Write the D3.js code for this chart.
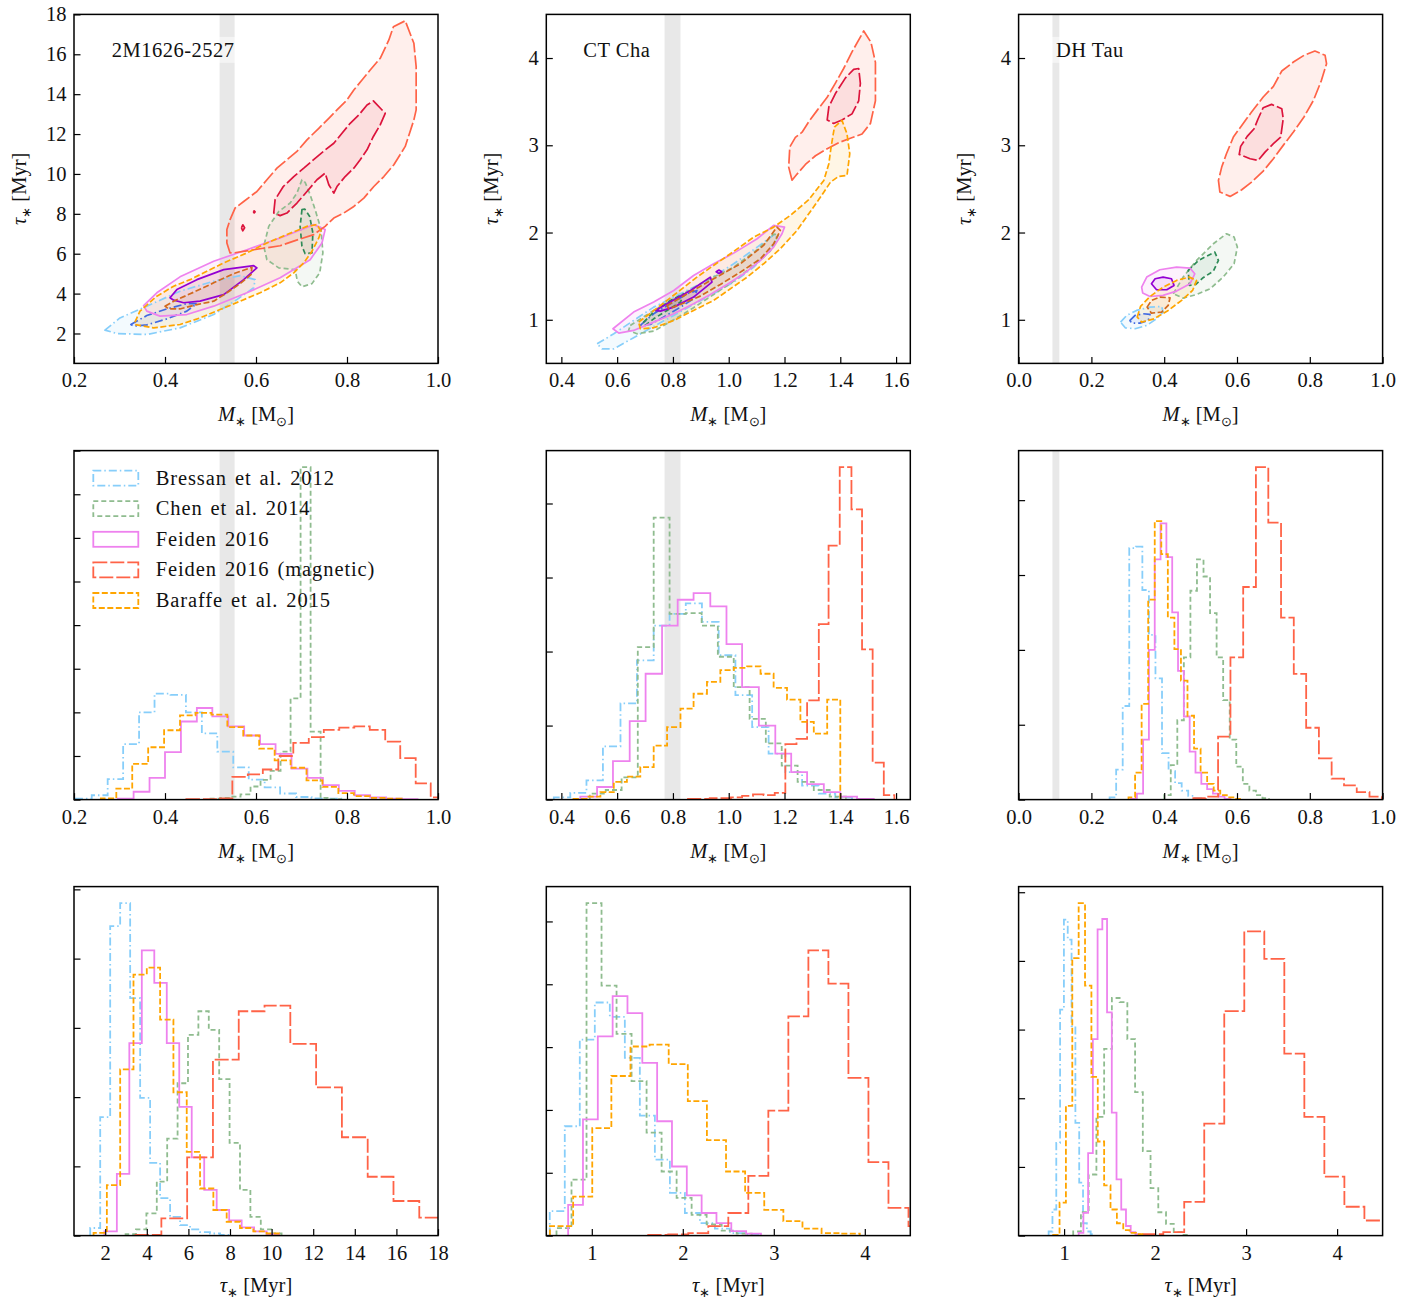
<!DOCTYPE html>
<html>
<head>
<meta charset="utf-8">
<script src="https://cdn.jsdelivr.net/npm/d3@7/dist/d3.min.js"></script>
<style>
  body { margin: 0; background: #fff; }
  text { font-family: "Liberation Serif", "Times New Roman", serif; fill: #111; }
</style>
</head>
<body>
<svg id="fig" width="1422" height="1303"></svg>
<script>
// ---------- names, styles ----------
const stars = ["2M1626-2527", "CT Cha", "DH Tau"];
const models = ["Bressan et al. 2012", "Chen et al. 2014", "Feiden 2016", "Feiden 2016 (magnetic)", "Baraffe et al. 2015"];
const outerColors = ["#87cefa", "#8fbc8f", "#ee82ee", "#ff6347", "#ffa500"];
const innerColors = ["#4169e1", "#2e8b57", "#9400d3", "#dc143c", "#d2691e"];
const dashes = ["8,3,1.5,3", "5,3", null, "14,3", "6,2.5"];

// dynamical mass ranges (M_sun)
const dynMassLo = [0.520, 0.770, 0.093];
const dynMassHi = [0.553, 0.827, 0.112];

// axis limits and ticks
const massDomain = [[0.2, 1.0], [0.346, 1.651], [0.0, 1.0]];
const ageDomain = [[0.5, 18], [0.5, 4.5], [0.5, 4.5]];
const massTicks = [[0.2, 0.4, 0.6, 0.8, 1.0], [0.4, 0.6, 0.8, 1.0, 1.2, 1.4, 1.6], [0.0, 0.2, 0.4, 0.6, 0.8, 1.0]];
const ageTicks = [[2, 4, 6, 8, 10, 12, 14, 16, 18], [1, 2, 3, 4], [1, 2, 3, 4]];

// ---------- posterior contours (mass, age) : 95% and 68% levels ----------
// 2M1626-2527
const c2M_bre_95 = [[0.268,2.17],[0.301,2.78],[0.360,3.37],[0.433,4.12],[0.507,4.62],[0.565,4.90],[0.598,4.70],[0.595,4.29],[0.558,3.70],[0.507,2.95],[0.433,2.28],[0.360,1.95],[0.294,2.00]];
const c2M_bre_68 = [[0.325,2.45],[0.360,2.90],[0.404,3.23],[0.448,3.50],[0.470,3.50],[0.448,3.12],[0.404,2.73],[0.360,2.43],[0.331,2.37]];
const c2M_che_95 = [[0.701,9.71],[0.690,9.04],[0.675,8.54],[0.650,8.12],[0.628,7.37],[0.617,6.37],[0.624,5.70],[0.650,5.29],[0.686,5.20],[0.691,4.62],[0.701,4.34],[0.723,4.50],[0.740,5.04],[0.747,6.04],[0.743,7.21],[0.730,8.21],[0.719,8.96],[0.708,9.58]];
const c2M_che_68 = [[0.701,8.21],[0.697,7.37],[0.701,6.37],[0.708,6.00],[0.723,6.04],[0.725,7.04],[0.718,7.87],[0.707,8.24]];
const c2M_fei_95 = [[0.353,3.40],[0.382,4.04],[0.433,4.84],[0.507,5.62],[0.580,6.20],[0.653,6.79],[0.727,7.46],[0.752,7.21],[0.745,6.54],[0.719,5.70],[0.653,4.79],[0.580,4.04],[0.507,3.37],[0.448,2.95],[0.389,2.87],[0.360,3.12]];
const c2M_fei_68 = [[0.411,3.79],[0.426,4.20],[0.470,4.70],[0.529,5.20],[0.595,5.40],[0.602,5.29],[0.573,4.70],[0.529,3.95],[0.477,3.62],[0.441,3.54],[0.419,3.67]];
const c2M_mag_95 = [[0.543,6.04],[0.536,6.54],[0.536,7.21],[0.543,7.71],[0.554,8.29],[0.573,8.62],[0.602,9.12],[0.624,9.71],[0.646,10.29],[0.668,10.71],[0.690,11.13],[0.712,11.71],[0.738,12.29],[0.760,12.79],[0.778,13.21],[0.800,13.71],[0.815,14.21],[0.833,14.71],[0.851,15.21],[0.873,15.80],[0.892,16.72],[0.902,17.38],[0.928,17.68],[0.947,16.55],[0.952,15.38],[0.952,13.21],[0.947,12.71],[0.928,11.38],[0.903,10.46],[0.881,9.87],[0.859,9.37],[0.837,8.79],[0.815,8.37],[0.793,8.04],[0.771,7.79],[0.752,7.37],[0.727,6.96],[0.697,6.74],[0.653,6.40],[0.595,6.20],[0.551,6.04]];
const c2M_mag_68 = [[0.639,8.04],[0.642,8.71],[0.660,9.37],[0.683,9.87],[0.705,10.29],[0.726,10.71],[0.748,11.13],[0.771,11.54],[0.789,12.04],[0.807,12.54],[0.826,12.96],[0.844,13.46],[0.858,13.66],[0.884,13.04],[0.873,12.46],[0.858,11.88],[0.844,11.21],[0.829,10.71],[0.815,10.29],[0.796,9.87],[0.778,9.37],[0.771,9.04],[0.760,9.46],[0.752,10.04],[0.734,9.71],[0.712,9.12],[0.690,8.54],[0.668,8.04],[0.653,7.91]];
const c2M_mag_68b = [[0.568,7.30],[0.571,7.45],[0.575,7.30],[0.571,7.15]];
const c2M_mag_68c = [[0.594,8.10],[0.596,8.15],[0.598,8.10],[0.596,8.05]];
const c2M_bar_95 = [[0.334,2.57],[0.345,3.12],[0.382,3.87],[0.419,4.37],[0.455,4.70],[0.492,5.12],[0.529,5.54],[0.580,6.04],[0.624,6.54],[0.668,6.96],[0.712,7.37],[0.734,7.46],[0.743,7.12],[0.738,6.79],[0.723,6.12],[0.705,5.54],[0.683,5.04],[0.653,4.54],[0.609,4.04],[0.565,3.62],[0.521,3.20],[0.477,2.78],[0.433,2.45],[0.375,2.28],[0.334,2.45]];
const c2M_bar_68 = [[0.400,3.37],[0.419,3.62],[0.463,4.07],[0.507,4.54],[0.551,5.00],[0.591,5.32],[0.589,4.95],[0.565,4.50],[0.536,4.04],[0.507,3.62],[0.470,3.45],[0.433,3.23],[0.408,3.23]];

// CT Cha
const cCT_bre_95 = [[0.528,0.725],[0.588,0.839],[0.659,0.992],[0.731,1.145],[0.827,1.298],[0.922,1.451],[1.018,1.642],[1.102,1.833],[1.167,1.986],[1.173,1.917],[1.137,1.757],[1.090,1.604],[1.018,1.432],[0.946,1.298],[0.874,1.176],[0.803,1.050],[0.731,0.924],[0.659,0.794],[0.588,0.667],[0.546,0.667]];
const cCT_bre_68 = [[0.683,0.935],[0.731,1.069],[0.791,1.183],[0.851,1.298],[0.886,1.336],[0.874,1.241],[0.827,1.145],[0.767,1.031],[0.719,0.947]];
const cCT_che_95 = [[0.647,0.935],[0.731,1.107],[0.827,1.279],[0.922,1.451],[1.018,1.604],[1.102,1.803],[1.161,1.978],[1.179,1.978],[1.149,1.787],[1.090,1.623],[1.018,1.443],[0.946,1.290],[0.874,1.138],[0.803,1.000],[0.731,0.870],[0.671,0.839],[0.641,0.878]];
const cCT_che_68 = [[0.695,0.973],[0.731,1.088],[0.791,1.222],[0.839,1.298],[0.827,1.203],[0.779,1.107],[0.731,1.011],[0.701,0.935]];
const cCT_fei_95 = [[0.585,0.897],[0.659,1.088],[0.731,1.203],[0.803,1.336],[0.874,1.508],[0.946,1.642],[1.018,1.764],[1.102,1.929],[1.161,2.081],[1.200,2.062],[1.191,1.986],[1.161,1.833],[1.114,1.680],[1.054,1.527],[0.994,1.405],[0.934,1.290],[0.874,1.183],[0.803,1.069],[0.731,0.973],[0.659,0.878],[0.606,0.847]];
const cCT_fei_68 = [[0.737,1.107],[0.779,1.183],[0.863,1.336],[0.934,1.489],[0.940,1.432],[0.874,1.260],[0.803,1.145],[0.755,1.099]];
const cCT_fei_68b = [[0.955,1.550],[0.965,1.570],[0.975,1.550],[0.965,1.530]];
const cCT_mag_95 = [[1.227,2.60],[1.215,2.75],[1.219,2.98],[1.239,3.09],[1.263,3.15],[1.287,3.27],[1.317,3.40],[1.353,3.55],[1.382,3.71],[1.412,3.88],[1.442,4.07],[1.484,4.31],[1.510,4.18],[1.526,3.95],[1.526,3.51],[1.508,3.25],[1.478,3.13],[1.436,3.08],[1.394,3.03],[1.353,2.96],[1.311,2.88],[1.275,2.78],[1.245,2.67]];
const cCT_mag_68 = [[1.353,3.29],[1.359,3.44],[1.382,3.59],[1.418,3.77],[1.448,3.87],[1.466,3.88],[1.472,3.71],[1.466,3.51],[1.442,3.36],[1.406,3.29],[1.376,3.25]];
const cCT_bar_95 = [[0.677,0.973],[0.779,1.222],[0.886,1.489],[1.006,1.757],[1.090,1.948],[1.161,2.062],[1.221,2.196],[1.287,2.376],[1.341,2.597],[1.359,2.789],[1.367,2.980],[1.379,3.209],[1.406,3.285],[1.424,3.132],[1.434,2.903],[1.424,2.655],[1.394,2.643],[1.365,2.578],[1.329,2.406],[1.287,2.215],[1.245,2.024],[1.185,1.814],[1.125,1.642],[1.066,1.489],[1.006,1.355],[0.946,1.222],[0.874,1.107],[0.803,0.992],[0.731,0.908],[0.683,0.897]];
const cCT_bar_68 = [[0.779,1.164],[0.851,1.298],[0.946,1.470],[1.042,1.642],[1.125,1.852],[1.173,2.062],[1.185,2.024],[1.161,1.871],[1.114,1.699],[1.042,1.546],[0.970,1.405],[0.898,1.271],[0.827,1.176],[0.785,1.126]];

// DH Tau
const cDH_bre_95 = [[0.280,0.973],[0.297,1.050],[0.324,1.107],[0.361,1.145],[0.393,1.153],[0.397,1.088],[0.379,1.011],[0.352,0.935],[0.320,0.897],[0.293,0.908]];
const cDH_bre_68 = [[0.306,0.992],[0.320,1.050],[0.342,1.069],[0.361,1.061],[0.356,0.992],[0.333,0.962],[0.310,0.962]];
const cDH_che_95 = [[0.425,1.298],[0.452,1.489],[0.489,1.680],[0.535,1.871],[0.571,1.986],[0.592,1.948],[0.601,1.833],[0.592,1.642],[0.562,1.489],[0.526,1.355],[0.489,1.290],[0.452,1.248]];
const cDH_che_68 = [[0.466,1.566],[0.494,1.680],[0.539,1.776],[0.549,1.680],[0.535,1.558],[0.507,1.482],[0.487,1.405],[0.469,1.394]];
const cDH_fei_95 = [[0.338,1.374],[0.352,1.489],[0.388,1.573],[0.434,1.604],[0.471,1.592],[0.484,1.527],[0.471,1.413],[0.434,1.329],[0.397,1.279],[0.361,1.267],[0.341,1.306]];
const cDH_fei_68 = [[0.365,1.413],[0.375,1.470],[0.397,1.489],[0.420,1.470],[0.427,1.394],[0.407,1.344],[0.379,1.344]];
const cDH_mag_95 = [[0.553,2.464],[0.549,2.597],[0.558,2.750],[0.571,2.903],[0.590,3.094],[0.613,3.228],[0.640,3.381],[0.672,3.553],[0.700,3.675],[0.723,3.851],[0.755,3.954],[0.784,4.031],[0.814,4.080],[0.842,4.031],[0.846,3.935],[0.832,3.744],[0.810,3.515],[0.784,3.324],[0.755,3.152],[0.727,2.999],[0.700,2.846],[0.672,2.704],[0.640,2.578],[0.613,2.490],[0.581,2.414]];
const cDH_mag_68 = [[0.606,2.896],[0.610,2.987],[0.628,3.102],[0.647,3.190],[0.658,3.304],[0.672,3.431],[0.695,3.469],[0.723,3.419],[0.727,3.304],[0.720,3.094],[0.700,3.018],[0.677,2.922],[0.658,2.827],[0.636,2.846]];
const cDH_bar_95 = [[0.326,1.031],[0.335,1.153],[0.361,1.267],[0.397,1.374],[0.434,1.451],[0.469,1.489],[0.489,1.451],[0.478,1.336],[0.448,1.222],[0.411,1.107],[0.372,1.011],[0.338,0.973]];
const cDH_bar_68 = [[0.353,1.145],[0.365,1.222],[0.388,1.260],[0.416,1.252],[0.411,1.164],[0.393,1.088],[0.365,1.076]];

// ---------- marginal histograms (bin edges, heights) ----------
// 2M1626-2527 mass
const m2M_bre_e = [0.204,0.239,0.274,0.308,0.343,0.377,0.412,0.446,0.481,0.515,0.550,0.584,0.619,0.653,0.688,0.722,0.757,0.791];
const m2M_bre_h = [0.02,0.10,0.47,1.27,2.00,2.43,2.40,2.00,1.52,1.10,0.74,0.46,0.28,0.14,0.06,0.03,0.02];
const m2M_che_e = [0.500,0.522,0.544,0.566,0.588,0.610,0.632,0.654,0.676,0.698,0.720,0.742,0.764,0.786];
const m2M_che_h = [0.02,0.04,0.07,0.12,0.30,0.45,0.66,1.10,2.32,7.62,1.56,0.04,0.01];
const m2M_fei_e = [0.296,0.331,0.366,0.400,0.435,0.470,0.504,0.539,0.574,0.609,0.643,0.678,0.713,0.747,0.782,0.817,0.851,0.886,0.921,0.955];
const m2M_fei_h = [0.02,0.18,0.50,1.09,1.79,2.10,1.91,1.68,1.47,1.27,1.05,0.71,0.50,0.33,0.20,0.10,0.05,0.02,0.01];
const m2M_mag_e = [0.447,0.480,0.514,0.548,0.582,0.615,0.649,0.682,0.716,0.749,0.783,0.816,0.850,0.884,0.917,0.951,0.984,1.018];
const m2M_mag_h = [0.01,0.01,0.03,0.52,0.58,0.69,1.00,1.30,1.43,1.60,1.65,1.68,1.60,1.33,0.95,0.37,0.05];
const m2M_bar_e = [0.259,0.293,0.328,0.363,0.398,0.433,0.467,0.502,0.537,0.572,0.607,0.641,0.676,0.711,0.746,0.781,0.815,0.850,0.885,0.920];
const m2M_bar_h = [0.03,0.25,0.82,1.20,1.59,1.93,1.99,1.95,1.66,1.47,1.17,0.90,0.73,0.44,0.29,0.15,0.08,0.04,0.02];
// CT Cha mass
const mCT_bre_e = [0.373,0.432,0.490,0.549,0.612,0.671,0.731,0.788,0.846,0.904,0.964,1.024,1.084,1.143,1.203,1.263,1.323,1.382,1.442];
const mCT_bre_h = [0.03,0.09,0.26,0.72,1.30,1.88,2.35,2.51,2.65,2.40,1.95,1.41,0.98,0.62,0.37,0.19,0.08,0.03];
const mCT_che_e = [0.444,0.502,0.559,0.616,0.674,0.731,0.788,0.846,0.903,0.961,1.018,1.075,1.133,1.190,1.247,1.305,1.362,1.420];
const mCT_che_h = [0.01,0.08,0.13,0.30,2.06,3.81,2.51,2.52,2.35,1.93,1.52,1.09,0.76,0.46,0.24,0.13,0.04];
const mCT_fei_e = [0.468,0.528,0.585,0.645,0.702,0.761,0.817,0.874,0.934,0.992,1.048,1.108,1.167,1.224,1.281,1.341,1.400,1.460,1.520];
const mCT_fei_h = [0.04,0.17,0.52,1.06,1.70,2.35,2.70,2.79,2.61,2.10,1.52,1.00,0.62,0.37,0.21,0.10,0.04,0.01];
const mCT_mag_e = [0.854,0.892,0.932,0.970,1.008,1.048,1.087,1.125,1.165,1.203,1.243,1.281,1.323,1.358,1.398,1.440,1.478,1.516,1.556,1.594];
const mCT_mag_h = [0.01,0.01,0.02,0.02,0.03,0.05,0.07,0.06,0.09,0.75,0.82,1.34,2.37,3.43,4.49,3.92,2.03,0.50,0.06];
const mCT_bar_e = [0.444,0.492,0.540,0.588,0.635,0.683,0.731,0.779,0.827,0.874,0.922,0.970,1.018,1.066,1.114,1.161,1.209,1.257,1.305,1.353,1.400];
const mCT_bar_h = [0.01,0.04,0.10,0.24,0.31,0.44,0.73,0.98,1.23,1.43,1.59,1.75,1.78,1.80,1.70,1.51,1.35,1.05,0.89,1.35];
// DH Tau mass
const mDH_bre_e = [0.250,0.268,0.286,0.304,0.322,0.340,0.358,0.376,0.394,0.412,0.430,0.448,0.466,0.484,0.502,0.520];
const mDH_bre_h = [0.03,0.40,1.25,3.36,3.38,2.80,2.20,1.62,0.62,0.38,0.22,0.12,0.05,0.02,0.01];
const mDH_che_e = [0.400,0.418,0.436,0.454,0.472,0.490,0.508,0.526,0.544,0.562,0.580,0.598,0.616,0.634,0.652,0.670,0.688];
const mDH_che_h = [0.06,0.46,1.06,1.90,2.79,3.21,2.98,2.49,1.90,1.33,0.80,0.44,0.21,0.12,0.06,0.02];
const mDH_fei_e = [0.308,0.325,0.342,0.358,0.374,0.390,0.406,0.422,0.438,0.454,0.470,0.486,0.502,0.518,0.534,0.550,0.566,0.582];
const mDH_fei_h = [0.01,0.08,0.80,2.00,3.21,3.69,3.24,2.50,1.72,1.11,0.64,0.36,0.21,0.14,0.08,0.04,0.01];
const mDH_mag_e = [0.480,0.514,0.548,0.582,0.617,0.652,0.686,0.721,0.756,0.790,0.825,0.860,0.894,0.929,0.964,0.998];
const mDH_mag_h = [0.02,0.04,0.84,1.90,2.84,4.44,3.70,2.43,1.68,0.96,0.55,0.28,0.19,0.10,0.04];
const mDH_bar_e = [0.302,0.320,0.338,0.356,0.374,0.392,0.410,0.428,0.446,0.464,0.482,0.500,0.518,0.536,0.554,0.572,0.590,0.608];
const mDH_bar_h = [0.03,0.36,1.28,2.67,3.72,3.28,2.43,2.01,1.59,1.12,0.68,0.36,0.21,0.12,0.06,0.03,0.01];

// 2M1626-2527 age
const a2M_bre_e = [1.28,1.76,2.24,2.72,3.20,3.68,4.16,4.64,5.12,5.60,6.08,6.56,7.04,7.52,8.00];
const a2M_bre_h = [0.11,1.71,4.47,4.80,3.43,1.99,1.05,0.54,0.27,0.15,0.09,0.05,0.03,0.01];
const a2M_che_e = [2.98,3.48,3.98,4.48,4.98,5.48,5.98,6.48,6.98,7.48,7.98,8.48,8.98,9.48,9.98,10.48];
const a2M_che_h = [0.02,0.09,0.32,0.78,1.40,2.20,2.90,3.24,2.97,2.26,1.34,0.66,0.27,0.09,0.03];
const a2M_fei_e = [1.96,2.56,3.16,3.76,4.36,4.96,5.56,6.16,6.76,7.36,7.96,8.56,9.16,9.76,10.36];
const a2M_fei_h = [0.06,0.89,2.78,4.12,3.65,2.78,1.86,1.13,0.66,0.37,0.22,0.12,0.06,0.02];
const a2M_mag_e = [3.46,4.70,5.94,7.18,8.42,9.66,10.90,12.14,13.38,14.62,15.86,17.10,18.34];
const a2M_mag_h = [0.01,0.25,1.13,2.54,3.24,3.32,2.77,2.14,1.42,0.85,0.50,0.26];
const a2M_bar_e = [1.44,2.08,2.72,3.36,4.00,4.64,5.28,5.92,6.56,7.20,7.84,8.48,9.12,9.76,10.40];
const a2M_bar_h = [0.04,0.73,2.40,3.77,3.87,3.12,2.07,1.21,0.68,0.37,0.20,0.11,0.06,0.03];
// CT Cha age
const aCT_bre_e = [0.538,0.703,0.868,1.033,1.198,1.363,1.528,1.693,1.858,2.023,2.188,2.353,2.518,2.683,2.848];
const aCT_bre_h = [0.39,1.74,3.12,3.71,3.48,2.83,1.91,1.21,0.68,0.36,0.20,0.11,0.04,0.02];
const aCT_che_e = [0.612,0.777,0.942,1.107,1.272,1.437,1.602,1.767,1.932,2.097,2.262,2.427,2.592,2.757];
const aCT_che_h = [0.12,0.89,5.29,3.98,3.21,2.46,1.64,1.02,0.60,0.33,0.18,0.08,0.03];
const aCT_fei_e = [0.740,0.903,1.066,1.229,1.392,1.555,1.718,1.881,2.044,2.207,2.370,2.533,2.696,2.859];
const aCT_fei_h = [0.49,1.85,3.17,3.81,3.54,2.75,1.82,1.10,0.64,0.36,0.20,0.07,0.03];
const aCT_mag_e = [1.620,1.840,2.060,2.280,2.500,2.720,2.940,3.160,3.380,3.600,3.820,4.040,4.260,4.480,4.700];
const aCT_mag_h = [0.01,0.02,0.04,0.15,0.36,0.95,1.99,3.49,4.54,4.01,2.51,1.17,0.44,0.15];
const aCT_bar_e = [0.540,0.795,1.005,1.215,1.425,1.635,1.845,2.055,2.265,2.475,2.685,2.895,3.105,3.315,3.525,3.735,3.945];
const aCT_bar_h = [0.15,0.62,1.71,2.54,3.01,3.04,2.73,2.14,1.52,1.02,0.68,0.41,0.23,0.11,0.04,0.03];
// DH Tau age
const aDH_bre_e = [0.830,0.872,0.914,0.956,0.998,1.040,1.082,1.124,1.166,1.208,1.250,1.292,1.334];
const aDH_bre_h = [0.06,0.38,1.35,3.29,4.60,4.31,3.05,1.64,0.77,0.18,0.06,0.02];
const aDH_che_e = [1.100,1.185,1.270,1.355,1.440,1.525,1.610,1.695,1.780,1.865,1.950,2.035,2.120,2.205,2.290,2.375];
const aDH_che_h = [0.06,0.34,0.89,1.73,2.72,3.46,3.40,2.86,2.09,1.23,0.69,0.34,0.17,0.05,0.01];
const aDH_fei_e = [1.160,1.212,1.264,1.316,1.368,1.420,1.472,1.524,1.576,1.628,1.680,1.732,1.784,1.836];
const aDH_fei_h = [0.04,0.33,1.20,2.86,4.46,4.61,3.25,1.79,0.82,0.38,0.14,0.05,0.02];
const aDH_mag_e = [1.870,2.090,2.320,2.540,2.760,2.980,3.200,3.420,3.640,3.860,4.080,4.300,4.520];
const aDH_mag_h = [0.02,0.05,0.49,1.63,3.27,4.43,4.03,2.65,1.73,0.86,0.42,0.22];
const aDH_bar_e = [0.880,0.950,1.020,1.090,1.160,1.230,1.300,1.370,1.440,1.510,1.580,1.650,1.720,1.790,1.860];
const aDH_bar_h = [0.01,0.48,1.89,4.04,4.84,3.64,2.31,1.37,0.73,0.38,0.18,0.08,0.04,0.02];

// ---------- tables built from the arrays above (per star, per model) ----------
const contourTables = [
  [[[c2M_bre_95],[c2M_bre_68]], [[c2M_che_95],[c2M_che_68]], [[c2M_fei_95],[c2M_fei_68]], [[c2M_mag_95],[c2M_mag_68, c2M_mag_68b, c2M_mag_68c]], [[c2M_bar_95],[c2M_bar_68]]],
  [[[cCT_bre_95],[cCT_bre_68]], [[cCT_che_95],[cCT_che_68]], [[cCT_fei_95],[cCT_fei_68, cCT_fei_68b]], [[cCT_mag_95],[cCT_mag_68]], [[cCT_bar_95],[cCT_bar_68]]],
  [[[cDH_bre_95],[cDH_bre_68]], [[cDH_che_95],[cDH_che_68]], [[cDH_fei_95],[cDH_fei_68]], [[cDH_mag_95],[cDH_mag_68]], [[cDH_bar_95],[cDH_bar_68]]]
];
const massHists = [
  [[m2M_bre_e,m2M_bre_h],[m2M_che_e,m2M_che_h],[m2M_fei_e,m2M_fei_h],[m2M_mag_e,m2M_mag_h],[m2M_bar_e,m2M_bar_h]],
  [[mCT_bre_e,mCT_bre_h],[mCT_che_e,mCT_che_h],[mCT_fei_e,mCT_fei_h],[mCT_mag_e,mCT_mag_h],[mCT_bar_e,mCT_bar_h]],
  [[mDH_bre_e,mDH_bre_h],[mDH_che_e,mDH_che_h],[mDH_fei_e,mDH_fei_h],[mDH_mag_e,mDH_mag_h],[mDH_bar_e,mDH_bar_h]]
];
const ageHists = [
  [[a2M_bre_e,a2M_bre_h],[a2M_che_e,a2M_che_h],[a2M_fei_e,a2M_fei_h],[a2M_mag_e,a2M_mag_h],[a2M_bar_e,a2M_bar_h]],
  [[aCT_bre_e,aCT_bre_h],[aCT_che_e,aCT_che_h],[aCT_fei_e,aCT_fei_h],[aCT_mag_e,aCT_mag_h],[aCT_bar_e,aCT_bar_h]],
  [[aDH_bre_e,aDH_bre_h],[aDH_che_e,aDH_che_h],[aDH_fei_e,aDH_fei_h],[aDH_mag_e,aDH_mag_h],[aDH_bar_e,aDH_bar_h]]
];

// ---------- layout ----------
const colLeft = [74, 546.3, 1018.6];
const rowTop = [14.4, 450.6, 886.6];
const PW = 364, PH = 349;
const FS = 20.5;
const svg = d3.select("#fig");
const defs = svg.append("defs");

function panel(r, c) {
  const id = `clip-${r}-${c}`;
  defs.append("clipPath").attr("id", id).append("rect").attr("width", PW).attr("height", PH);
  const g = svg.append("g").attr("transform", `translate(${colLeft[c]},${rowTop[r]})`);
  const plot = g.append("g").attr("clip-path", `url(#${id})`);
  return { g, plot };
}

function styleAxis(ax) {
  ax.select(".domain").remove();
  ax.selectAll(".tick line").attr("stroke", "#000").attr("stroke-width", 1.2);
  ax.selectAll(".tick text").attr("font-size", FS).attr("font-family", "Liberation Serif, serif").attr("fill", "#111");
}

function xAxis(g, x, ticks, fmt) {
  const ax = g.append("g").attr("transform", `translate(0,${PH})`)
    .call(d3.axisBottom(x).tickValues(ticks).tickFormat(fmt).tickSize(-6.5).tickSizeOuter(0).tickPadding(9.5));
  styleAxis(ax);
}
function yAxis(g, y, ticks, fmt) {
  const ax = g.append("g")
    .call(d3.axisLeft(y).tickValues(ticks).tickFormat(fmt).tickSize(-6.5).tickSizeOuter(0).tickPadding(7.5));
  styleAxis(ax);
}
function frame(g) {
  g.append("rect").attr("width", PW).attr("height", PH).attr("fill", "none").attr("stroke", "#000").attr("stroke-width", 1.5);
}
function band(plot, x, c) {
  plot.append("rect").attr("x", x(dynMassLo[c])).attr("y", 0)
    .attr("width", x(dynMassHi[c]) - x(dynMassLo[c])).attr("height", PH).attr("fill", "#e8e8e8");
}

function subStar(t) {
  t.append("tspan").attr("font-size", 13).attr("dy", 5).text("\u2217");
}
function massLabel(g) {
  const t = g.append("text").attr("x", PW / 2).attr("y", PH + 58).attr("text-anchor", "middle").attr("font-size", FS);
  t.append("tspan").attr("font-style", "italic").text("M");
  subStar(t);
  t.append("tspan").attr("dy", -5).text(" [M");
  t.append("tspan").attr("font-size", 13).attr("dy", 5).text("\u2299");
  t.append("tspan").attr("dy", -5).text("]");
}
function ageLabelX(g) {
  const t = g.append("text").attr("x", PW / 2).attr("y", PH + 56).attr("text-anchor", "middle").attr("font-size", FS);
  t.append("tspan").attr("font-style", "italic").text("\u03c4");
  subStar(t);
  t.append("tspan").attr("dy", -5).text(" [Myr]");
}
function ageLabelY(g) {
  const t = g.append("text").attr("transform", `translate(-48,${PH / 2}) rotate(-90)`).attr("text-anchor", "middle").attr("font-size", FS);
  t.append("tspan").attr("font-style", "italic").text("\u03c4");
  subStar(t);
  t.append("tspan").attr("dy", -5).text(" [Myr]");
}

const fmt1 = d3.format(".1f");
const fmt0 = d3.format("d");

// ---------- row 1: joint posteriors ----------
for (let c = 0; c < 3; c++) {
  const { g, plot } = panel(0, c);
  const x = d3.scaleLinear().domain(massDomain[c]).range([0, PW]);
  const y = d3.scaleLinear().domain(ageDomain[c]).range([PH, 0]);
  band(plot, x, c);
  const line = d3.line().x(d => x(d[0])).y(d => y(d[1])).curve(d3.curveLinearClosed);
  contourTables[c].forEach((lv, i) => {
    lv[0].forEach(p => plot.append("path").attr("d", line(p)).attr("fill", outerColors[i]).attr("fill-opacity", 0.1).attr("stroke", "none"));
    lv[1].forEach(p => plot.append("path").attr("d", line(p)).attr("fill", innerColors[i]).attr("fill-opacity", 0.08).attr("stroke", "none"));
  });
  contourTables[c].forEach((lv, i) => {
    lv[0].forEach(p => plot.append("path").attr("d", line(p)).attr("fill", "none").attr("stroke", outerColors[i])
      .attr("stroke-width", 1.7).attr("stroke-dasharray", dashes[i]).attr("stroke-linejoin", "round"));
    lv[1].forEach(p => plot.append("path").attr("d", line(p)).attr("fill", "none").attr("stroke", innerColors[i])
      .attr("stroke-width", 1.7).attr("stroke-dasharray", dashes[i]).attr("stroke-linejoin", "round"));
  });
  // star name with a translucent white box
  const lab = g.append("text").attr("x", [37.7, 37, 37.4][c]).attr("y", 42.5).attr("font-size", FS)
    .attr("letter-spacing", 0.5).text(stars[c]);
  const bb = lab.node().getBBox();
  g.insert("rect", "text").attr("x", bb.x - 4).attr("y", bb.y - 2).attr("width", bb.width + 8).attr("height", bb.height + 4)
    .attr("fill", "#fff").attr("fill-opacity", 0.5);
  lab.raise();
  frame(g);
  xAxis(g, x, massTicks[c], fmt1);
  yAxis(g, y, ageTicks[c], fmt0);
  massLabel(g);
  ageLabelY(g);
}

// ---------- rows 2 and 3: marginal histograms ----------
function stepPoints(e, h) {
  const pts = [[e[0], 0]];
  h.forEach((v, k) => { pts.push([e[k], v]); pts.push([e[k + 1], v]); });
  pts.push([e[e.length - 1], 0]);
  return pts;
}
function histPanel(r, c, xDomain, hists, xTicks, fmt, withBand) {
  const { g, plot } = panel(r, c);
  const x = d3.scaleLinear().domain(xDomain).range([0, PW]);
  const top = 1.05 * d3.max(hists, s => d3.max(s[1]));
  const y = d3.scaleLinear().domain([0, top]).range([PH, 0]);
  if (withBand) band(plot, x, c);
  const line = d3.line().x(d => x(d[0])).y(d => y(d[1]));
  hists.forEach((s, i) => {
    plot.append("path").attr("d", line(stepPoints(s[0], s[1]))).attr("fill", "none")
      .attr("stroke", outerColors[i]).attr("stroke-width", 1.8).attr("stroke-dasharray", dashes[i]);
  });
  frame(g);
  xAxis(g, x, xTicks, fmt);
  yAxis(g, y, d3.range(0, Math.floor(top) + 1), () => "");
  return g;
}

for (let c = 0; c < 3; c++) {
  const g2 = histPanel(1, c, massDomain[c], massHists[c], massTicks[c], fmt1, true);
  massLabel(g2);
  const g3 = histPanel(2, c, ageDomain[c], ageHists[c], ageTicks[c], fmt0, false);
  ageLabelX(g3);
  if (c === 0) {
    const leg = g2.append("g").attr("transform", "translate(19.3,20)");
    models.forEach((m, i) => {
      const row = leg.append("g").attr("transform", `translate(0,${i * 30.6})`);
      row.append("rect").attr("width", 45).attr("height", 15).attr("fill", "none")
        .attr("stroke", outerColors[i]).attr("stroke-width", 1.8).attr("stroke-dasharray", dashes[i]);
      row.append("text").attr("x", 62.4).attr("y", 14).attr("font-size", FS).attr("letter-spacing", 0.9)
        .attr("word-spacing", 2).text(m);
    });
  }
}
</script>
</body>
</html>
